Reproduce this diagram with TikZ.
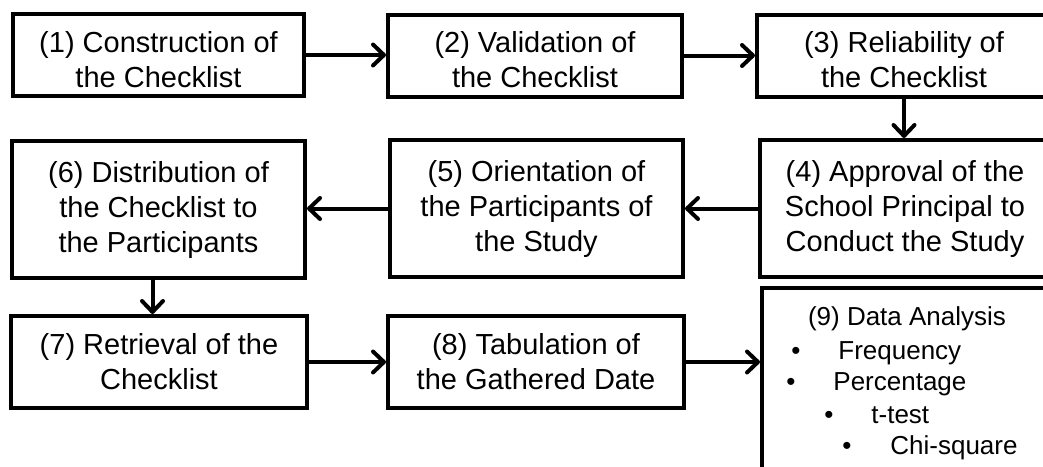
\documentclass[tikz,border=0pt]{standalone}
\usepackage{fontspec}
\setmainfont{Liberation Sans}
\usetikzlibrary{arrows.meta}
\tikzset{stepbox/.style={draw=black, line width=2pt, minimum width=146.5pt,
  inner sep=0pt, align=center, font=\fontsize{14.5}{17.5}\selectfont},
 rowa/.style={minimum height=41pt, text height=32pt, text depth=0pt},
 rowb/.style={minimum height=68.5pt},
 rowc/.style={minimum height=46pt, minimum width=148pt},
 flow/.style={line width=2pt, -{Straight Barb[length=5.5pt,width=10.5pt,round]}},
 item/.style={inner sep=0pt, font=\fontsize{13}{16}\selectfont},
 }

\begin{document}
\begin{tikzpicture}[x=0.5pt,y=-0.5pt]
    \useasboundingbox (0,0) rectangle (1043,466);
    \clip (0,0) rectangle (1043,466);
    % first row
    \node[stepbox, rowa, minimum width=145.5pt] (b1) at (158.5,55) {(1) Construction of\\the Checklist};
    \node[stepbox, rowa, minimum width=147pt] (b2) at (535,55.5) {(2) Validation of\\the Checklist};
    \node[stepbox, rowa, minimum width=147pt] (b3) at (904,55.5) {(3) Reliability of\\the Checklist};
    % second row
    \node[stepbox, rowb, minimum width=145pt] (b4) at (905,208.5) {(4) Approval of the\\School Principal to\\Conduct the Study};
    \node[stepbox, rowb] (b5) at (536.5,208.5) {(5) Orientation of\\the Participants of\\the Study};
    \node[stepbox, rowb] (b6) at (158.5,209.5) {(6) Distribution of\\the Checklist to\\the Participants};
    % third row
    \node[stepbox, rowc] (b7) at (159,362) {(7) Retrieval of the\\Checklist};
    \node[stepbox, rowc] (b8) at (536,362) {(8) Tabulation of\\the Gathered Date};
    \node[stepbox, minimum width=145pt, minimum height=101pt] (b9) at (907,389) {};
    \node[item, anchor=base] (t9) at (907,325) {(9) Data Analysis};
    \foreach \bx/\tx/\ty/\name [count=\i] in {796/838/359/Frequency, 791/833/390/Percentage,
            829/871/423/t-test, 847/890/454/Chi-square} {
        \node[item, anchor=base] (dot\i) at (\bx,\ty) {\textbullet};
        \node[item, anchor=base west] (an\i) at (\tx,\ty) {\name};
    }
    % arrows
    \draw[flow] (b1.east) -- (b1.east -| b2.west);
    \draw[flow] (b2.east) -- (b2.east -| b3.west);
    \draw[flow] (b3.south) -- (b3.south |- b4.north);
    \draw[flow] (b4.west) -- (b4.west -| b5.east);
    \draw[flow] (b5.west) -- (b5.west -| b6.east);
    \draw[flow] ([xshift=-3pt]b6.south) -- ([xshift=-3pt]b6.south |- b7.north);
    \draw[flow] (b7.east) -- (b7.east -| b8.west);
    \draw[flow] (b8.east) -- (b8.east -| b9.west);
\end{tikzpicture}
\end{document}
